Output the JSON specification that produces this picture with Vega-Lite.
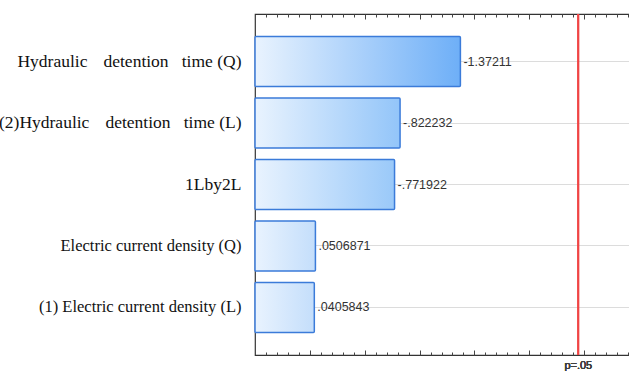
{
  "$schema": "https://vega.github.io/schema/vega-lite/v6.json",
  "width": 384,
  "height": 341,
  "autosize": {"type": "none"},
  "padding": {"left": 255, "top": 14, "right": 0, "bottom": 20},
  "background": "white",
  "config": {
    "view": {"stroke": "#333333", "strokeWidth": 1.2},
    "axis": {"domain": false, "title": null}
  },
  "data": {
    "values": [
      {"effect": "Hydraulic\u2002\u2005\u2006detention\u2002\u2005time (Q)", "t": 1.37211, "label": "-1.37211"},
      {"effect": "(2)Hydraulic\u2002\u2005\u2006detention\u2002\u2005time (L)", "t": 0.822232, "label": "-.822232"},
      {"effect": "1Lby2L", "t": 0.771922, "label": "-.771922"},
      {"effect": "Electric current density (Q)", "t": 0.0506871, "label": ".0506871"},
      {"effect": "(1) Electric current density (L)", "t": 0.0405843, "label": ".0405843"}
    ]
  },
  "resolve": {"axis": {"x": "independent"}},
  "layer": [
    {
      "transform": [{"filter": "datum.t > 1"}],
      "mark": {"type": "bar", "stroke": "#3b7bd9", "strokeWidth": 1.5, "cornerRadius": 1,
        "fill": {"gradient": "linear", "x1": 0, "x2": 1, "y1": 0, "y2": 0,
          "stops": [{"offset": 0, "color": "#e9f3fe"}, {"offset": 1, "color": "#6eaff7"}]}},
      "encoding": {
        "y": {"field": "effect", "type": "nominal", "sort": null,
          "scale": {"paddingInner": 0.187, "paddingOuter": 0.366},
          "axis": {"grid": true, "gridColor": "#dcdcdc", "ticks": true, "tickSize": -4, "tickColor": "#444444",
            "labelFont": "Liberation Serif", "labelColor": "#111111", "labelPadding": 18, "labelLimit": 300,
            "labelFontSize": {"condition": {"test": "indexof(datum.label, 'Electric') >= 0", "value": 16.5}, "value": 17.5}}},
        "x": {"field": "t", "type": "quantitative",
          "scale": {"domain": [-0.5, 3.0], "nice": false, "zero": false},
          "axis": {"orient": "bottom", "labels": false, "grid": false, "tickColor": "#444444",
            "values": [-0.4,-0.3,-0.2,-0.1,0,0.1,0.2,0.3,0.4,0.5,0.6,0.7,0.8,0.9,1.0,1.1,1.2,1.3,1.4,1.5,1.6,1.7,1.8,1.9,2.0,2.1,2.2,2.3,2.4,2.5,2.6,2.7,2.8,2.9],
            "tickSize": {"condition": {"test": "abs(datum.value*2 - round(datum.value*2)) < 0.001", "value": -5}, "value": -3}}},
        "x2": {"datum": -0.5}
      }
    },
    {
      "transform": [{"filter": "datum.t > 0.8 && datum.t < 1"}],
      "mark": {"type": "bar", "stroke": "#3b7bd9", "strokeWidth": 1.5, "cornerRadius": 1,
        "fill": {"gradient": "linear", "x1": 0, "x2": 1, "y1": 0, "y2": 0,
          "stops": [{"offset": 0, "color": "#e9f3fe"}, {"offset": 1, "color": "#93c5f9"}]}},
      "encoding": {
        "y": {"field": "effect", "type": "nominal", "sort": null},
        "x": {"field": "t", "type": "quantitative",
          "axis": {"orient": "top", "labels": false, "grid": false, "tickColor": "#444444",
            "values": [-0.4,-0.3,-0.2,-0.1,0,0.1,0.2,0.3,0.4,0.5,0.6,0.7,0.8,0.9,1.0,1.1,1.2,1.3,1.4,1.5,1.6,1.7,1.8,1.9,2.0,2.1,2.2,2.3,2.4,2.5,2.6,2.7,2.8,2.9],
            "tickSize": {"condition": {"test": "abs(datum.value*2 - round(datum.value*2)) < 0.001", "value": -5}, "value": -3}}},
        "x2": {"datum": -0.5}
      }
    },
    {
      "transform": [{"filter": "datum.t > 0.5 && datum.t < 0.8"}],
      "mark": {"type": "bar", "stroke": "#3b7bd9", "strokeWidth": 1.5, "cornerRadius": 1,
        "fill": {"gradient": "linear", "x1": 0, "x2": 1, "y1": 0, "y2": 0,
          "stops": [{"offset": 0, "color": "#e9f3fe"}, {"offset": 1, "color": "#9ac9f9"}]}},
      "encoding": {
        "y": {"field": "effect", "type": "nominal", "sort": null},
        "x": {"field": "t", "type": "quantitative", "axis": null},
        "x2": {"datum": -0.5}
      }
    },
    {
      "transform": [{"filter": "datum.t < 0.1"}],
      "mark": {"type": "bar", "stroke": "#3b7bd9", "strokeWidth": 1.5, "cornerRadius": 1,
        "fill": {"gradient": "linear", "x1": 0, "x2": 1, "y1": 0, "y2": 0,
          "stops": [{"offset": 0, "color": "#e9f3fe"}, {"offset": 1, "color": "#c4defb"}]}},
      "encoding": {
        "y": {"field": "effect", "type": "nominal", "sort": null},
        "x": {"field": "t", "type": "quantitative", "axis": null},
        "x2": {"datum": -0.5}
      }
    },
    {
      "mark": {"type": "text", "align": "left", "baseline": "middle", "dx": 3, "font": "Liberation Sans", "fontSize": 12.5, "fill": "#333333"},
      "encoding": {
        "y": {"field": "effect", "type": "nominal", "sort": null},
        "x": {"field": "t", "type": "quantitative", "axis": null},
        "text": {"field": "label"}
      }
    },
    {
      "mark": {"type": "rule", "color": "#f04545", "strokeWidth": 1.5},
      "encoding": {"x": {"datum": 2.447, "type": "quantitative", "axis": null}}
    },
    {
      "mark": {"type": "text", "text": "p=.05", "align": "center", "baseline": "top", "dy": 5, "font": "Liberation Sans", "fontSize": 11, "fill": "#404040", "clip": false},
      "encoding": {"x": {"datum": 2.447, "type": "quantitative", "axis": null}, "y": {"value": "height"}}
    }
  ]
}
